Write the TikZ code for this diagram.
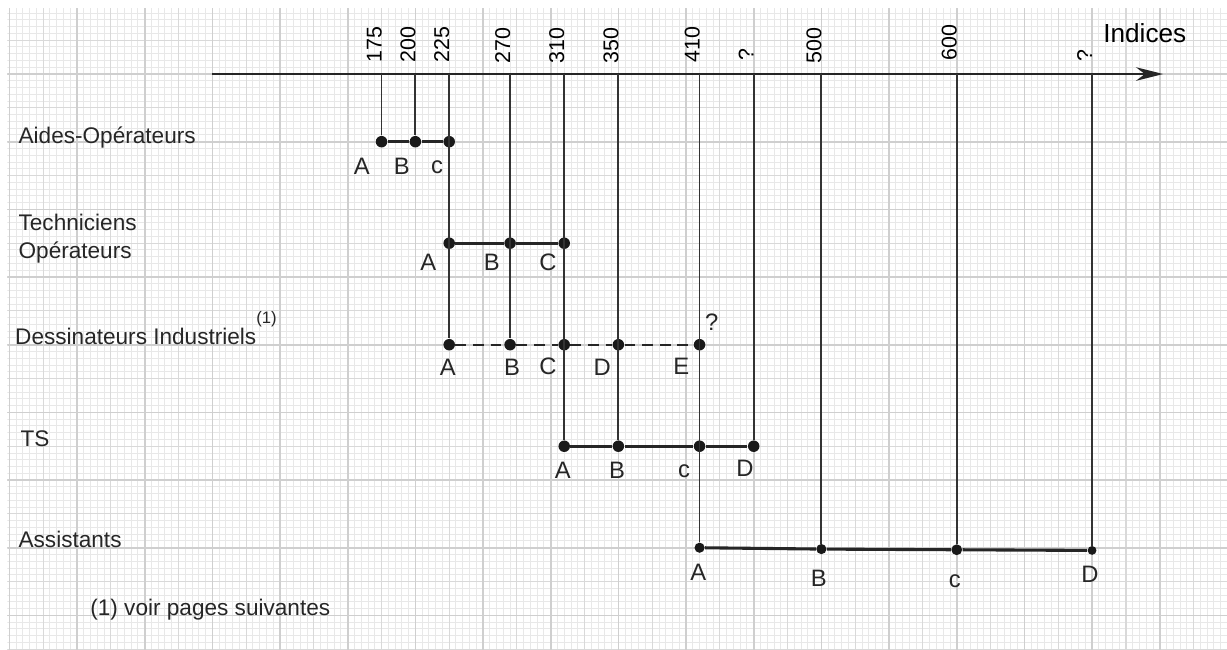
\documentclass[tikz,border=0pt]{standalone}
\usepackage{fontspec}
\setmainfont{Liberation Sans}
\usetikzlibrary{arrows.meta, positioning}

\begin{document}
\begin{tikzpicture}[
    font=\fontsize{9.5}{11.4}\selectfont,
    >={Stealth[length=0.4cm, width=0.2cm]},
    % Define styles
    fine/.style={gray!18, line width=0.42pt},
    half/.style={gray!30, line width=0.5pt},
    major/.style={gray!38, line width=0.7pt},
    axis/.style={->, line width=1.1pt, black!85},
    rung/.style={line width=0.75pt, black!80},
    bar/.style={line width=1.3pt, black!85},
    dotted bar/.style={line width=1pt, black!85, dash pattern=on 0.16cm off 0.1cm},
    dot/.style={circle, fill=black!90, inner sep=0pt, minimum size=0.17cm},
    tick/.style={rotate=90, anchor=base west, inner sep=0pt, font=\fontsize{9}{10}\selectfont},
    grade/.style={font=\fontsize{10}{12}\selectfont, text=black!85},
    rowname/.style={anchor=base west, inner sep=0pt, align=left, text=black!85}
]

\useasboundingbox (-1.138,-8.497) rectangle (16.994,1.094);

% 1. Graph paper
\begin{scope}
    \clip (-1.03,-8.497) rectangle (16.994,0.975);
    \draw[fine] (-1.2,-8.6) grid[step=0.1] (17.1,1.1);
    \draw[half] (-1.2,-8.6) grid[step=0.5] (17.1,1.1);
    \draw[major] (-1.2,-8.6) grid[step=1] (17.1,1.1);
\end{scope}

% 2. Axis and indices
\coordinate (axstart) at (2,0);
\coordinate (axend) at (16.05,0);
\draw[axis] (axstart) -- (axend);
\node[anchor=base west, inner sep=0pt, font=\fontsize{11}{12}\selectfont] (indices) at (15.16,0.47) {Indices};

\coordinate (x175) at (4.5,0);
\coordinate (x200) at (5,0);
\coordinate (x225) at (5.5,0);
\coordinate (x270) at (6.4,0);
\coordinate (x310) at (7.2,0);
\coordinate (x350) at (8,0);
\coordinate (x410) at (9.2,0);
\coordinate (xq1) at (10,0);
\coordinate (x500) at (11,0);
\coordinate (x600) at (13,0);
\coordinate (xq2) at (15,0);

\node[tick] (l175) at ([yshift=0.17cm]x175) {175};
\node[tick] (l200) at ([yshift=0.17cm]x200) {200};
\node[tick] (l225) at ([yshift=0.17cm]x225) {225};
\node[tick] (l270) at ([yshift=0.15cm]x270) {270};
\node[tick] (l310) at ([yshift=0.15cm]x310) {310};
\node[tick] (l350) at ([yshift=0.15cm]x350) {350};
\node[tick] (l410) at ([yshift=0.17cm]x410) {410};
\node[tick] (lq1) at ([yshift=0.2cm]xq1) {?};
\node[tick] (l500) at ([yshift=0.15cm]x500) {500};
\node[tick] (l600) at ([yshift=0.2cm]x600) {600};
\node[tick] (lq2) at ([yshift=0.18cm]xq2) {?};

% 3. Rows
\node[rowname] (aides) at (-0.87,-1.02) {Aides-Opérateurs};
\node[rowname] (techs) at (-0.87,-2.72) {Techniciens\\Opérateurs};
\node[rowname] (dess) at (-0.92,-4.0) {Dessinateurs Industriels\raisebox{0.95em}{\fontsize{7}{8}\selectfont(1)}};
\node[rowname] (ts) at (-0.84,-5.5) {TS};
\node[rowname] (assist) at (-0.87,-7.0) {Assistants};
\node[rowname] (note) at (0.19,-8.0) {(1) voir pages suivantes};

% Aides-Operateurs
\node[dot] (aoA) at (4.5,-1) {};
\node[dot] (aoB) at (5,-1) {};
\node[dot] (aoC) at (5.5,-1) {};
\node[grade] at (4.21,-1.36) {A};
\node[grade] at (4.80,-1.36) {B};
\node[grade] at (5.32,-1.38) {c};

% Techniciens Operateurs
\node[dot] (toA) at (5.5,-2.5) {};
\node[dot] (toB) at (6.4,-2.5) {};
\node[dot] (toC) at (7.2,-2.5) {};
\node[grade] at (5.19,-2.78) {A};
\node[grade] at (6.13,-2.78) {B};
\node[grade] at (6.96,-2.78) {C};

% Dessinateurs Industriels
\node[dot] (diA) at (5.5,-4) {};
\node[dot] (diB) at (6.4,-4) {};
\node[dot] (diC) at (7.2,-4) {};
\node[dot] (diD) at (8,-4) {};
\node[dot] (diE) at (9.2,-4) {};
\node[grade] at (5.48,-4.34) {A};
\node[grade] at (6.43,-4.34) {B};
\node[grade] at (6.96,-4.32) {C};
\node[grade] at (7.76,-4.34) {D};
\node[grade] at (8.93,-4.32) {E};
\node[grade] (unsure) at (9.38,-3.66) {?};

% TS
\node[dot] (tsA) at (7.2,-5.5) {};
\node[dot] (tsB) at (8,-5.5) {};
\node[dot] (tsC) at (9.2,-5.5) {};
\node[dot] (tsD) at (10,-5.5) {};
\node[grade] at (7.18,-5.85) {A};
\node[grade] at (7.98,-5.85) {B};
\node[grade] at (8.97,-5.87) {c};
\node[grade] at (9.87,-5.83) {D};

% Assistants
\node[dot, minimum size=0.15cm] (asA) at (9.2,-7) {};
\node[dot, minimum size=0.15cm] (asB) at (11,-7.02) {};
\node[dot, minimum size=0.16cm] (asC) at (13,-7.03) {};
\node[dot, minimum size=0.13cm] (asD) at (15,-7.04) {};
\node[grade] at (9.18,-7.36) {A};
\node[grade] at (10.96,-7.45) {B};
\node[grade] at (12.97,-7.5) {c};
\node[grade] at (14.97,-7.39) {D};

% 4. Connections
% Indices down to the grades
\draw[rung] (x175) -- (aoA);
\draw[rung] (x200) -- (aoB);
\draw[rung] (x225) -- (diA);
\draw[rung] (x270) -- (diB);
\draw[rung] (x310) -- (tsA);
\draw[rung] (x350) -- (tsB);
\draw[rung] (x410) -- (asA);
\draw[rung] (xq1) -- (tsD);
\draw[rung] (x500) -- (asB);
\draw[rung] (x600) -- (asC);
\draw[rung] (xq2) -- (asD);

% Grade scales
\draw[bar] (aoA) -- (aoB) -- (aoC);
\draw[bar] (toA) -- (toB) -- (toC);
\draw[dotted bar] (diA) -- (diB) -- (diC) -- (diD) -- (diE);
\draw[bar] (tsA) -- (tsB) -- (tsC) -- (tsD);
\draw[bar] (asA) -- (asB) -- (asC) -- (asD);

\end{tikzpicture}
\end{document}
